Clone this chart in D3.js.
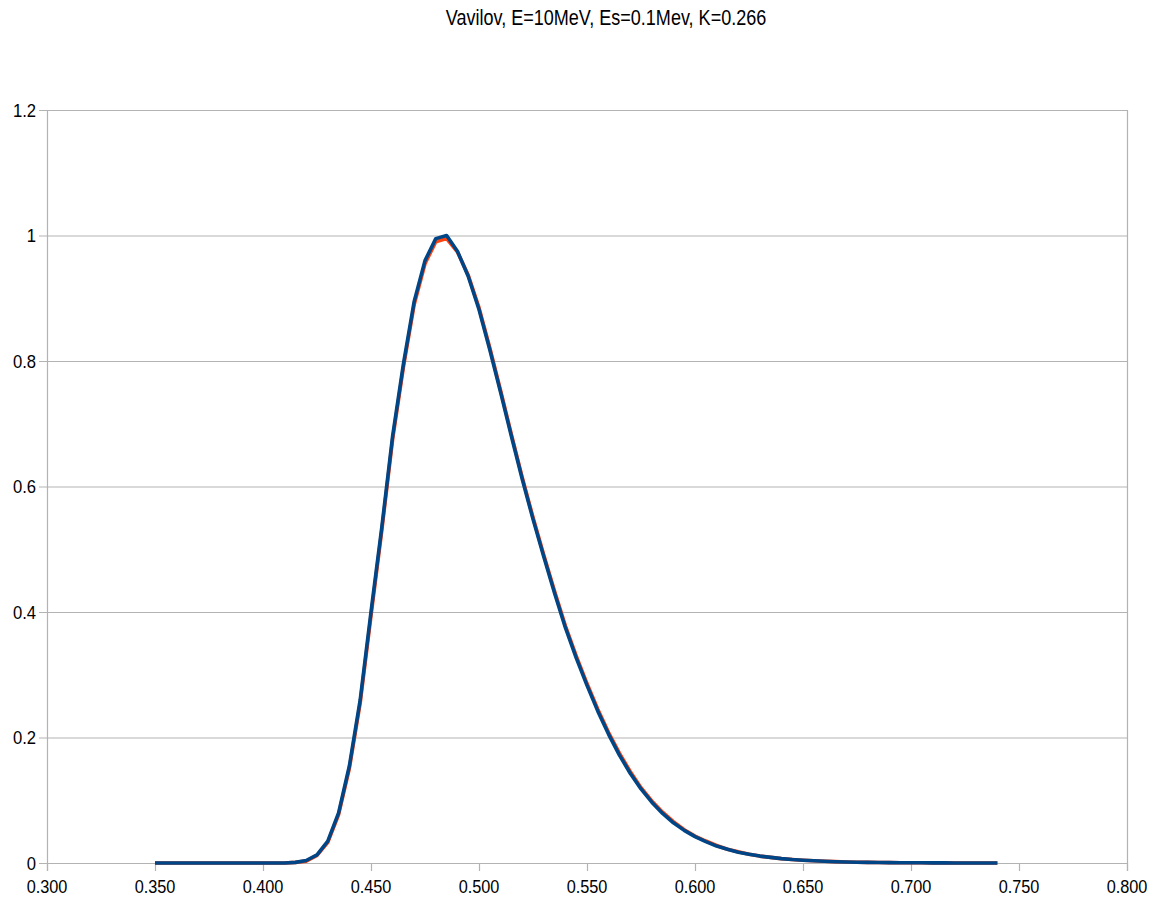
<!DOCTYPE html>
<html><head><meta charset="utf-8">
<script src="https://cdn.jsdelivr.net/npm/d3@7"></script>
<style>body{margin:0;background:#fff}svg{display:block}text{font-family:"Liberation Sans",Arial,sans-serif;fill:#000}</style>
</head><body><svg id="c" width="1156" height="901"></svg>
<script>
const title = "Vavilov, E=10MeV, Es=0.1Mev, K=0.266";
const xValues = [0.350,0.355,0.360,0.365,0.370,0.375,0.380,0.385,0.390,0.395,0.400,0.405,0.410,0.415,0.420,0.425,0.430,0.435,0.440,0.445,0.450,0.455,0.460,0.465,0.470,0.475,0.480,0.485,0.490,0.495,0.500,0.505,0.510,0.515,0.520,0.525,0.530,0.535,0.540,0.545,0.550,0.555,0.560,0.565,0.570,0.575,0.580,0.585,0.590,0.595,0.600,0.605,0.610,0.615,0.620,0.625,0.630,0.635,0.640,0.645,0.650,0.655,0.660,0.665,0.670,0.675,0.680,0.685,0.690,0.695,0.700,0.705,0.710,0.715,0.720,0.725,0.730,0.735,0.740];
const orangeSeries = [0,0,0,0,0,0,0,0,0,0,0,0,0,0.001,0.003,0.012,0.033,0.077,0.151,0.255,0.394,0.53,0.675,0.79,0.89,0.955,0.99,0.995,0.974,0.937,0.885,0.821,0.753,0.683,0.615,0.551,0.491,0.433,0.378,0.33,0.286,0.245,0.208,0.175,0.146,0.12,0.099,0.081,0.066,0.053,0.043,0.035,0.028,0.022,0.018,0.014,0.011,0.009,0.007,0.0056,0.0045,0.0036,0.0028,0.0022,0.0017,0.0013,0.001,0.0008,0.0006,0.0005,0.0004,0.0003,0.0002,0.0002,0.0001,0.0001,0.0001,0.0001,0];
const blueSeries = [0,0,0,0,0,0,0,0,0,0,0,0,0,0.001,0.004,0.013,0.035,0.08,0.155,0.26,0.40,0.535,0.68,0.795,0.895,0.96,0.995,1.0,0.975,0.935,0.882,0.818,0.75,0.68,0.612,0.548,0.488,0.43,0.375,0.327,0.283,0.242,0.205,0.172,0.143,0.118,0.097,0.079,0.064,0.052,0.042,0.034,0.027,0.022,0.017,0.014,0.011,0.009,0.007,0.0055,0.0044,0.0035,0.0027,0.0021,0.0017,0.0013,0.001,0.0008,0.0006,0.0005,0.0004,0.0003,0.0002,0.0002,0.0001,0.0001,0.0001,0.0001,0];
const xTicks = [0.300,0.350,0.400,0.450,0.500,0.550,0.600,0.650,0.700,0.750,0.800];
const yTicks = [0,0.2,0.4,0.6,0.8,1,1.2];

const svg = d3.select("#c");
const L=47,R=1127,T=110,B=863;
const x = d3.scaleLinear().domain([0.3,0.8]).range([L,R]);
const y = d3.scaleLinear().domain([0,1.2]).range([B,T]);
const grid="#b3b3b3";

// horizontal gridlines
svg.append("g").selectAll("line").data(yTicks).join("line")
  .attr("x1",L-8).attr("x2",R).attr("y1",d=>y(d)+0.5).attr("y2",d=>y(d)+0.5)
  .attr("stroke",grid).attr("stroke-width",1.2);
// left & right frame lines
svg.append("line").attr("x1",L+0.5).attr("x2",L+0.5).attr("y1",T).attr("y2",B+8).attr("stroke",grid).attr("stroke-width",1.2);
svg.append("line").attr("x1",R+0.5).attr("x2",R+0.5).attr("y1",T).attr("y2",B+8).attr("stroke",grid).attr("stroke-width",1.2);
// x tick marks
svg.append("g").selectAll("line").data(xTicks).join("line")
  .attr("x1",d=>x(d)+0.5).attr("x2",d=>x(d)+0.5).attr("y1",B).attr("y2",B+8)
  .attr("stroke",grid).attr("stroke-width",1.2);

// tick labels
svg.append("g").selectAll("text").data(xTicks).join("text")
  .attr("transform",d=>`translate(${x(d)},${B+30}) scale(0.88,1)`)
  .attr("text-anchor","middle").attr("font-size",18.5)
  .text(d=>d3.format(".3f")(d));
svg.append("g").selectAll("text").data(yTicks).join("text")
  .attr("transform",d=>`translate(${L-11},${y(d)+6.5}) scale(0.9,1)`)
  .attr("text-anchor","end").attr("font-size",18.5)
  .text(d=>String(d));

// title
svg.append("text").attr("transform","translate(606,25) scale(0.82,1)")
  .attr("text-anchor","middle").attr("font-size",22).text(title);

const line = d3.line().x((d,i)=>x(xValues[i])).y(d=>y(d));
svg.append("path").datum(orangeSeries).attr("d",line).attr("fill","none")
  .attr("stroke","#ff420e").attr("stroke-width",3.6).attr("stroke-linejoin","round");
svg.append("path").datum(blueSeries).attr("d",line).attr("fill","none")
  .attr("stroke","#004586").attr("stroke-width",3.6).attr("stroke-linejoin","round");
</script></body></html>
